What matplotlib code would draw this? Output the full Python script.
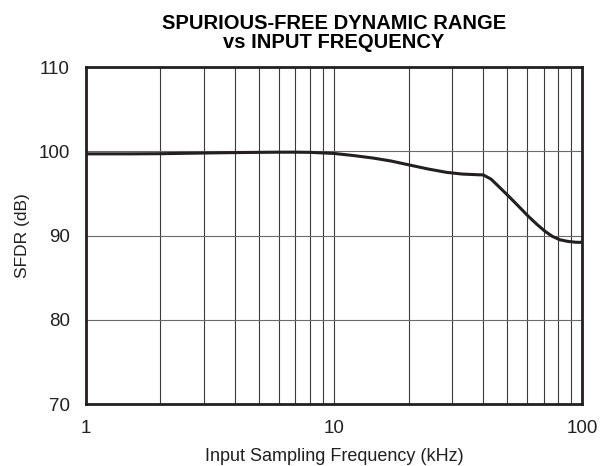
import matplotlib
matplotlib.use('Agg')
import matplotlib.pyplot as plt
from matplotlib.ticker import FixedLocator, NullFormatter

plt.rcParams['font.family'] = ['Liberation Sans', 'DejaVu Sans']

# values
freq_khz = [1, 1.5, 2, 3, 4, 5, 6, 7, 8, 10, 12, 14.4, 17, 20, 24, 28.5, 33, 38, 40,
            43, 47, 50.5, 55, 60.7, 66, 71, 76, 81.5, 88, 95, 100]
sfdr_db = [99.7, 99.7, 99.72, 99.8, 99.85, 99.88, 99.9, 99.9, 99.88, 99.75, 99.5, 99.2, 98.85,
           98.4, 97.9, 97.5, 97.3, 97.22, 97.2, 96.7, 95.6, 94.7, 93.6, 92.3, 91.3, 90.5,
           89.9, 89.5, 89.3, 89.2, 89.2]

x_ticks = [1, 10, 100]
x_ticklabels = ['1', '10', '100']
y_ticks = [70, 80, 90, 100, 110]

fig = plt.figure(figsize=(6, 4.66), dpi=100)
ax = fig.add_axes([0.143, 0.133, 0.827, 0.723])

ax.plot(freq_khz, sfdr_db, color='#231f20', linewidth=2.2, solid_capstyle='round', zorder=3)

ax.set_xscale('log')
ax.set_xlim(1, 100)
ax.set_ylim(70, 110)

ax.xaxis.set_major_locator(FixedLocator(x_ticks))
ax.set_xticklabels(x_ticklabels)
ax.xaxis.set_minor_locator(FixedLocator([d * m for d in (1, 10) for m in range(2, 10)]))
ax.xaxis.set_minor_formatter(NullFormatter())
ax.set_yticks(y_ticks)

ax.grid(True, which='both', axis='x', color='#3a3a3a', linewidth=0.8)
ax.grid(True, which='major', axis='y', color='#6a6a6a', linewidth=0.8)
ax.tick_params(which='both', length=0, labelsize=13.5, pad=11.5, labelcolor='#231f20')

for s in ax.spines.values():
    s.set_linewidth(2)
    s.set_color('#231f20')

ax.set_xlabel('Input Sampling Frequency (kHz)', fontsize=13, labelpad=8, color='#231f20')
ax.set_ylabel('SFDR (dB)', fontsize=12.5, labelpad=6, color='#231f20')
ax.set_title('SPURIOUS-FREE DYNAMIC RANGE\nvs INPUT FREQUENCY', fontsize=14.5,
             fontweight='bold', linespacing=0.95, pad=14)

fig.savefig('out.png', dpi=100)
